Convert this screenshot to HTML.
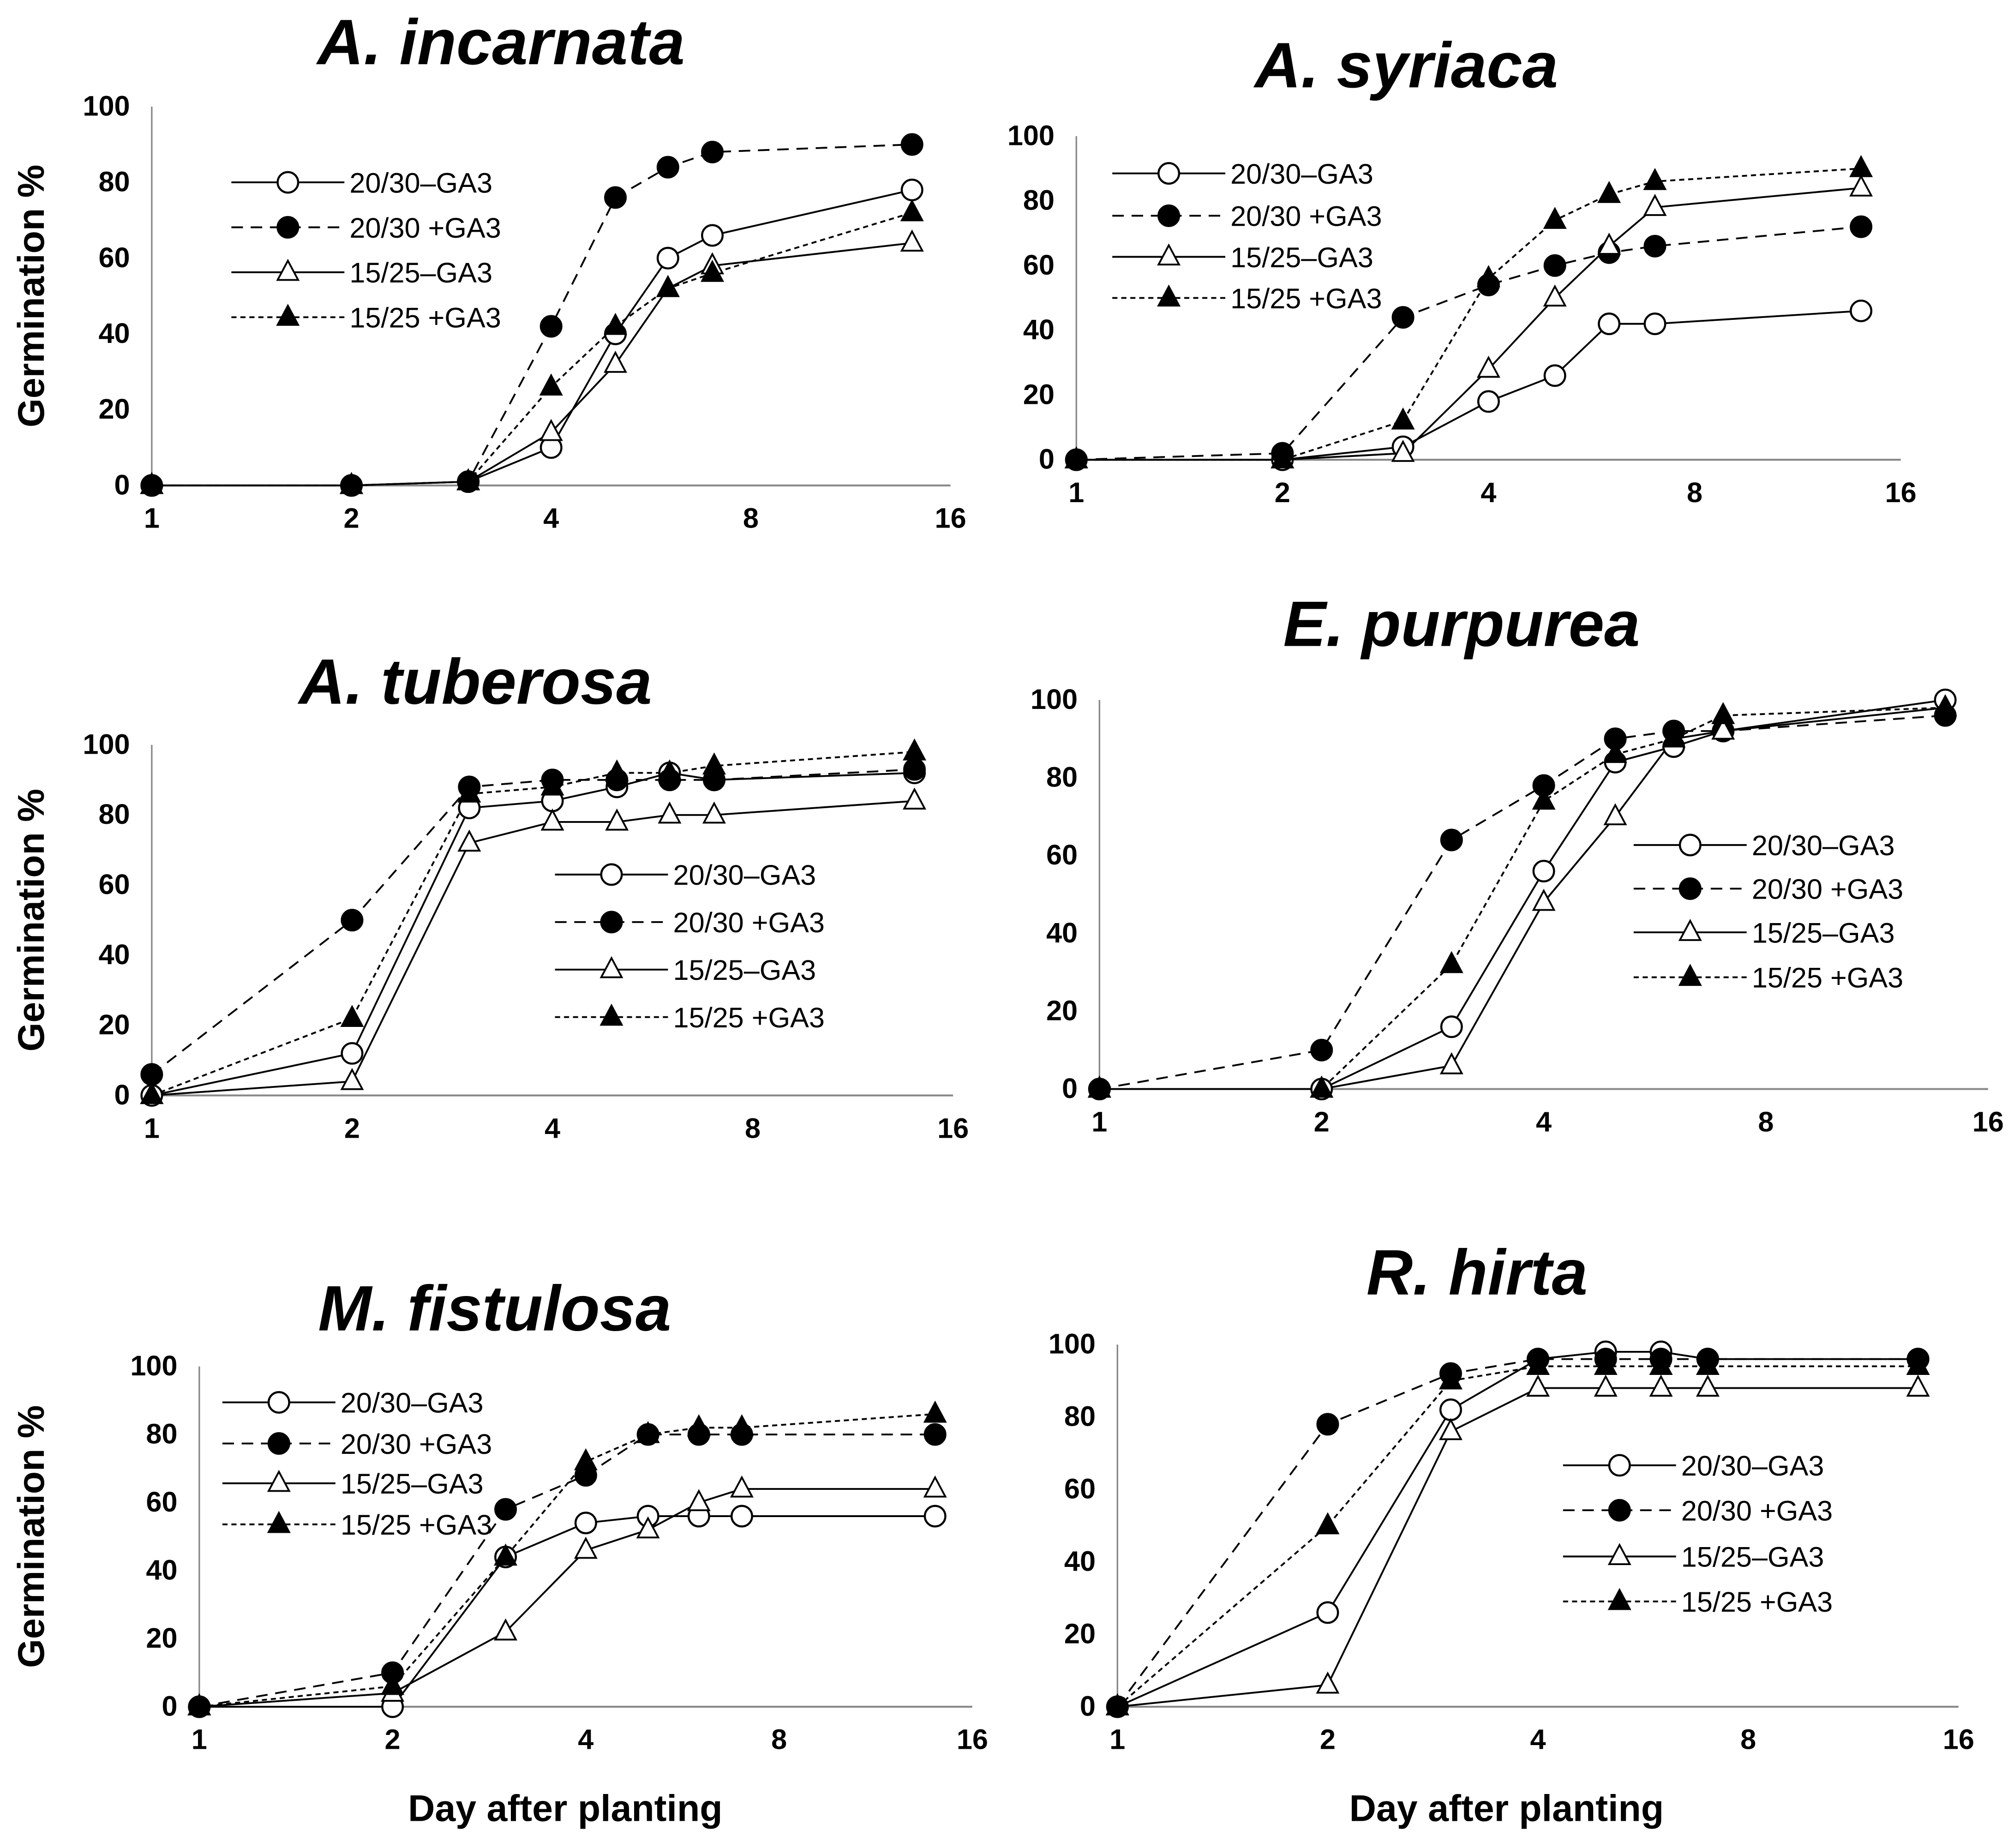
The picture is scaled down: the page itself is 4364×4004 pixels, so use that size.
<!DOCTYPE html>
<html><head><meta charset="utf-8"><style>
html,body{margin:0;padding:0;background:#fff}
svg{display:block}
text{font-family:"Liberation Sans",sans-serif;fill:#000}
.t{font-weight:bold;font-style:italic;font-size:50px}
.k{font-size:22px;font-weight:bold}
.l{font-size:22px}
.ax{font-size:29px;font-weight:bold}
</style></head><body>
<svg id="c" width="4364" height="4004" viewBox="0 0 1568 1439" xmlns="http://www.w3.org/2000/svg"></svg>
<script>
const days=[1,2,3,4,5,6,7,14];
const xTicks=[1,2,4,8,16];
const yTicks=[0,20,40,60,80,100];
const seriesLabels=["20/30\u2013GA3","20/30 +GA3","15/25\u2013GA3","15/25 +GA3"];
const titles=["A. incarnata","A. syriaca","A. tuberosa","E. purpurea","M. fistulosa","R. hirta"];
const incarnataOC=[0,0,1,10,40,60,66,78];
const incarnataFC=[0,0,1,42,76,84,88,90];
const incarnataOT=[0,0,1,14,32,52,58,64];
const incarnataFT=[0,0,1,26,42,52,56,72];
const syriacaOC=[0,0,4,18,26,42,42,46];
const syriacaFC=[0,2,44,54,60,64,66,72];
const syriacaOT=[0,0,2,28,50,66,78,84];
const syriacaFT=[0,0,12,56,74,82,86,90];
const tuberosaOC=[0,12,82,84,88,92,90,92];
const tuberosaFC=[6,50,88,90,90,90,90,93];
const tuberosaOT=[0,4,72,78,78,80,80,84];
const tuberosaFT=[0,22,86,88,92,92,94,98];
const purpureaOC=[0,0,16,56,84,88,92,100];
const purpureaFC=[0,10,64,78,90,92,92,96];
const purpureaOT=[0,0,6,48,70,90,92,98];
const purpureaFT=[0,0,32,74,86,90,96,98];
const fistulosaOC=[0,0,44,54,56,56,56,56];
const fistulosaFC=[0,10,58,68,80,80,80,80];
const fistulosaOT=[0,4,22,46,52,60,64,64];
const fistulosaFT=[0,6,44,72,80,82,82,86];
const hirtaOC=[0,26,82,96,98,98,96,96];
const hirtaFC=[0,78,92,96,96,96,96,96];
const hirtaOT=[0,6,76,88,88,88,88,88];
const hirtaFT=[0,50,90,94,94,94,94,94];
const panelData=[[incarnataOC,incarnataFC,incarnataOT,incarnataFT],[syriacaOC,syriacaFC,syriacaOT,syriacaFT],[tuberosaOC,tuberosaFC,tuberosaOT,tuberosaFT],[purpureaOC,purpureaFC,purpureaOT,purpureaFT],[fistulosaOC,fistulosaFC,fistulosaOT,fistulosaFT],[hirtaOC,hirtaFC,hirtaOT,hirtaFT]];
const G=[
 {x1:118,x16:740,y0:378,y100:83,tx:390,ty:50,lx:180,ly:[142,177,212,247],yl:true},
 {x1:838,x16:1480,y0:358,y100:106,tx:1095,ty:68,lx:866,ly:[135,168,200,232],yl:false},
 {x1:118,x16:742,y0:853,y100:580,tx:370,ty:548,lx:432,ly:[681,718,755,792],yl:true},
 {x1:856,x16:1548,y0:848,y100:545,tx:1138,ty:503,lx:1272,ly:[658,692,726,761],yl:false},
 {x1:155,x16:757,y0:1329,y100:1064,tx:385,ty:1036,lx:173,ly:[1092,1124,1155,1187],yl:true},
 {x1:870,x16:1525,y0:1329,y100:1047,tx:1150,ty:1008,lx:1217,ly:[1141,1176,1212,1247],yl:false}];
const NS="http://www.w3.org/2000/svg",svg=document.getElementById('c');
function mk(tag,at,p){const e=document.createElementNS(NS,tag);for(const k in at)e.setAttribute(k,at[k]);(p||svg).appendChild(e);return e;}
const dash=["none","9,6","none","4,3"];
function marker(i,x,y,g){
 const fill=(i%2)?"#000":"#fff";let e;
 if(i<2)e=mk('circle',{cx:x,cy:y,r:8,fill:fill,stroke:'#000','stroke-width':1.6},g);
 else e=mk('polygon',{points:`${x},${y-9} ${x-8},${y+6} ${x+8},${y+6}`,fill:fill,stroke:'#000','stroke-width':1.4},g);
 return e;}
G.forEach((p,pi)=>{
 const g=mk('g',{});
 
 
 const sx=d=>p.x1+(p.x16-p.x1)*Math.log2(d)/4;
 const sy=v=>p.y0+(p.y100-p.y0)*v/100;
 const t=mk('text',{x:p.tx,y:p.ty,'text-anchor':'middle',class:'t'},g);t.textContent=titles[pi];
 
 
 const ya=mk('line',{x1:p.x1,x2:p.x1,y1:sy(0),y2:sy(100),stroke:'#888','stroke-width':1.2},g);
 
 
 const xa=mk('line',{x1:p.x1,x2:p.x16,y1:sy(0),y2:sy(0),stroke:'#888','stroke-width':1.5},g);
 
 
 yTicks.forEach(v=>{const e=mk('text',{x:p.x1-17,y:sy(v)+7,'text-anchor':'end',class:'k'},g);e.textContent=v;
  
  });
 xTicks.forEach(v=>{const e=mk('text',{x:sx(v),y:sy(0)+33,'text-anchor':'middle',class:'k'},g);e.textContent=v;
  
  });
 panelData[pi].forEach((s,si)=>{
  const pts=s.map((v,j)=>sx(days[j])+','+sy(v)).join(' ');
  const pl=mk('polyline',{points:pts,fill:'none',stroke:'#000','stroke-width':1.4,'stroke-dasharray':dash[si]},g);
  
  
 });
 panelData[pi].forEach((s,si)=>{s.forEach((v,j)=>{const m=marker(si,sx(days[j]),sy(v),g);
  
  });});
 seriesLabels.forEach((lab,si)=>{
  const y=p.ly[si];
  const le=mk('g',{},g);
  
  
  mk('line',{x1:p.lx,x2:p.lx+88,y1:y,y2:y,stroke:'#000','stroke-width':1.4,'stroke-dasharray':dash[si]},le);
  marker(si,p.lx+44,y,le);
  const tx=mk('text',{x:p.lx+92,y:y+8,class:'l'},le);tx.textContent=lab;
 });
 if(p.yl){const yt=mk('text',{x:0,y:0,'text-anchor':'middle',class:'ax',transform:`translate(34,${(sy(0)+sy(100))/2}) rotate(-90)`},g);yt.textContent="Germination %";
  
  }
});
[[440,1418],[1173,1418]].forEach(([x,y])=>{const e=mk('text',{x:x,y:y,'text-anchor':'middle',class:'ax'});e.textContent="Day after planting";
 
 });
</script>
</body></html>
